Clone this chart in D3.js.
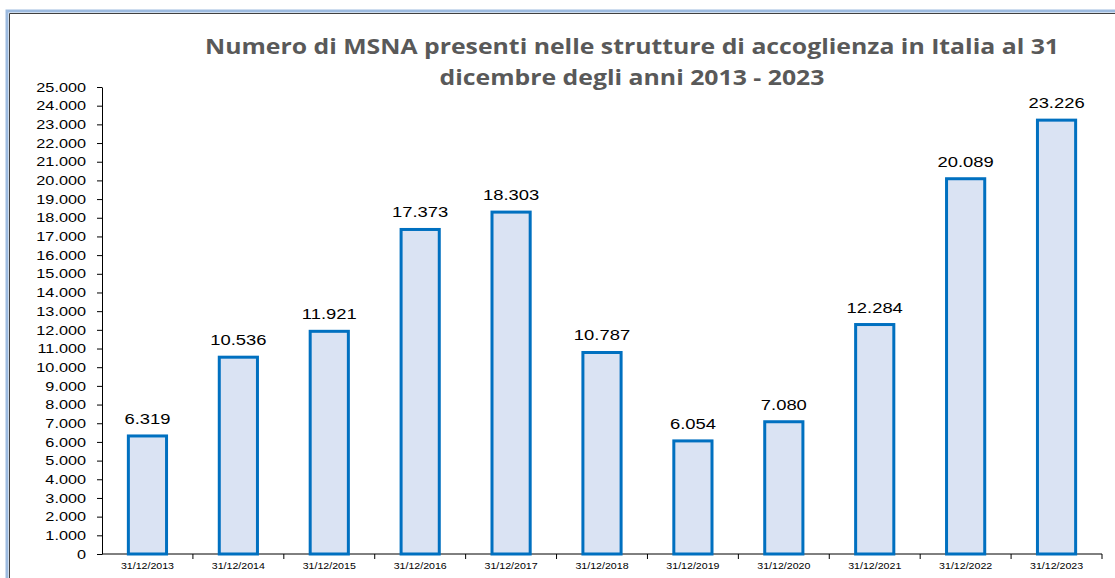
<!DOCTYPE html>
<html>
<head>
<meta charset="utf-8">
<script src="https://cdn.jsdelivr.net/npm/d3@7"></script>
<style>
  body { margin: 0; background: #fff; }
  svg { display: block; }
</style>
</head>
<body>
<svg width="1115" height="578"></svg>
<script>
const categories = ["31/12/2013", "31/12/2014", "31/12/2015", "31/12/2016", "31/12/2017", "31/12/2018",
                    "31/12/2019", "31/12/2020", "31/12/2021", "31/12/2022", "31/12/2023"];
const values = [6319, 10536, 11921, 17373, 18303, 10787, 6054, 7080, 12284, 20089, 23226];
const yTicks = d3.range(0, 25001, 1000);
const titleLines = ["Numero di MSNA presenti nelle strutture di accoglienza in Italia al 31",
                    "dicembre degli anni 2013 - 2023"];

let svg = d3.select("svg"),
    width = +svg.attr("width"),
    height = +svg.attr("height");

// the original picture is a bit stretched sideways, text included
const stretch = 1.25;

const fmt = d3.formatLocale({ decimal: ",", thousands: ".", grouping: [3], currency: ["", ""] }).format(",d");

// frame
svg.append("path")
  .attr("d", `M7,${height} V11 H${width}`)
  .attr("fill", "none").attr("stroke", "#9dbbe0").attr("stroke-width", 3);
svg.append("path")
  .attr("d", `M9.5,${height} V13.5 H${width}`)
  .attr("fill", "none").attr("stroke", "#404040").attr("stroke-width", 1);

const x = d3.scaleBand().domain(categories).range([102, 1102]).paddingInner(0.58).paddingOuter(0.29);
const y = d3.scaleLinear().domain([0, 25000]).range([554, 87]);

// title
svg.append("g")
  .attr("transform", `translate(632,0) scale(1.21,1)`)
  .append("text")
  .attr("text-anchor", "middle")
  .attr("font-family", "Open Sans, sans-serif")
  .attr("font-weight", "bold")
  .attr("font-size", 20.5)
  .attr("fill", "#595959")
  .selectAll("tspan")
  .data(titleLines)
  .enter().append("tspan")
    .attr("x", 0)
    .attr("y", (d, i) => 54 + i * 31)
    .text(d => d);

// y axis
const yAxis = svg.append("g")
  .attr("transform", "translate(102,0)")
  .call(d3.axisLeft(y).tickValues(yTicks).tickFormat(fmt).tickSize(5).tickSizeOuter(0));
yAxis.selectAll("text")
  .attr("font-family", "Liberation Sans, Arial, sans-serif")
  .attr("font-size", 13).attr("fill", "#000")
  .attr("x", 0)
  .attr("transform", `translate(-16,0) scale(${stretch},1)`);
yAxis.selectAll("line, path").attr("stroke", "#000");

// x axis with ticks between categories
const xAxis = svg.append("g").attr("transform", "translate(0,554)");
xAxis.append("line").attr("x1", 102).attr("x2", 1102).attr("stroke", "#000");
xAxis.selectAll(".sep")
  .data(categories)
  .enter().append("line")
    .attr("x1", d => x(d) + x.bandwidth() / 2 + x.step() / 2)
    .attr("x2", d => x(d) + x.bandwidth() / 2 + x.step() / 2)
    .attr("y1", 0).attr("y2", 5).attr("stroke", "#000");
xAxis.selectAll(".lbl")
  .data(categories)
  .enter().append("text")
    .attr("transform", d => `translate(${x(d) + x.bandwidth() / 2},15) scale(${stretch},1)`)
    .attr("text-anchor", "middle")
    .attr("font-family", "Liberation Sans, Arial, sans-serif")
    .attr("font-size", 8.5)
    .attr("fill", "#000")
    .text(d => d);

// bars
svg.selectAll(".bar")
  .data(values)
  .enter().append("rect")
    .attr("x", (d, i) => x(categories[i]))
    .attr("y", d => y(d))
    .attr("width", x.bandwidth())
    .attr("height", d => y(0) - y(d))
    .attr("fill", "#dae3f3")
    .attr("stroke", "#0070c0")
    .attr("stroke-width", 3);

// value labels
svg.selectAll(".val")
  .data(values)
  .enter().append("text")
    .attr("transform", (d, i) => `translate(${x(categories[i]) + x.bandwidth() / 2},${y(d) - 12}) scale(${stretch * 0.95},1)`)
    .attr("text-anchor", "middle")
    .attr("font-family", "Liberation Sans, Arial, sans-serif")
    .attr("font-size", 15.5)
    .attr("fill", "#000")
    .text(d => fmt(d));
</script>
</body>
</html>
